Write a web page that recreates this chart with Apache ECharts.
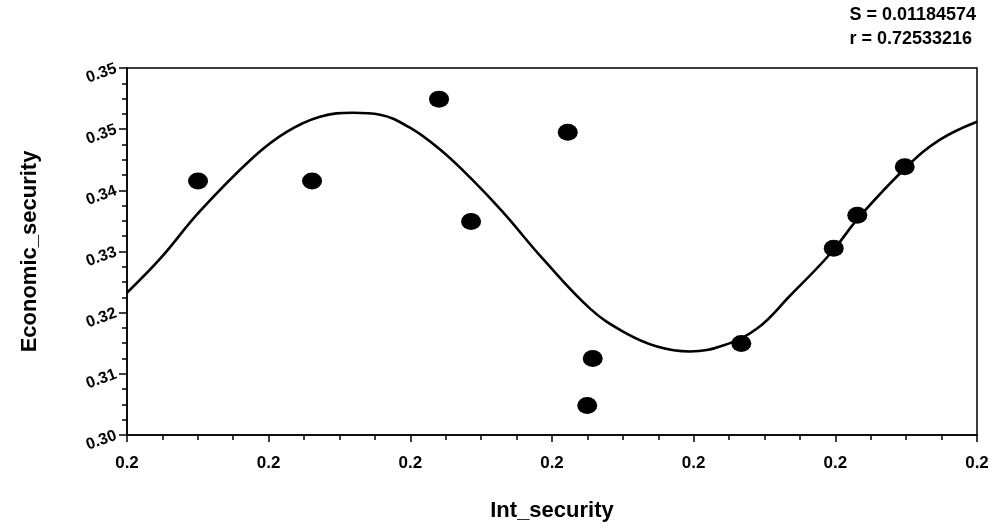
<!DOCTYPE html>
<html>
<head>
<meta charset="utf-8">
<script src="https://cdn.jsdelivr.net/npm/echarts@6/dist/echarts.min.js"></script>
<style>
  html, body { margin: 0; padding: 0; background: #fff; }
  #chart { width: 997px; height: 527px; }
</style>
</head>
<body>
<div id="chart"></div>
<script>
// measured points (Int_security, Economic_security)
var pointX = [0.20401, 0.21045, 0.21762, 0.21943, 0.22489, 0.22630, 0.22599, 0.23469, 0.23991, 0.24124, 0.24392];
var pointY = [0.33736, 0.33736, 0.34942, 0.33142, 0.34453, 0.31127, 0.30435, 0.31346, 0.32747, 0.33234, 0.33947];

// fitted curve
var curveX = [0.20000, 0.20186, 0.20412, 0.20712, 0.20904, 0.21090, 0.21276, 0.21429, 0.21598, 0.21768, 0.21937, 0.22123, 0.22349,
              0.22615, 0.22801, 0.22993, 0.23179, 0.23366, 0.23558, 0.23744, 0.23970, 0.24139, 0.24405, 0.24591, 0.24800];
var curveY = [0.32093, 0.32590, 0.33293, 0.34083, 0.34463, 0.34683, 0.34741, 0.34712, 0.34522, 0.34200, 0.33790, 0.33278, 0.32590,
              0.31859, 0.31522, 0.31302, 0.31229, 0.31317, 0.31566, 0.32049, 0.32663, 0.33220, 0.33951, 0.34346, 0.34610];

var xTickLabels = ['0.2', '0.2', '0.2', '0.2', '0.2', '0.2', '0.2'];
var yTickLabels = ['0.30', '0.31', '0.32', '0.33', '0.34', '0.35', '0.35'];
var statLines = ['S = 0.01184574', 'r = 0.72533216'];

var font = 'Liberation Sans, Arial, sans-serif';

var scatterData = pointX.map(function (x, i) { return [x, pointY[i]]; });
var curveData = curveX.map(function (x, i) { return [x, curveY[i]]; });

var chart = echarts.init(document.getElementById('chart'));
chart.setOption({
  animation: false,
  backgroundColor: '#fff',
  grid: {
    left: 127, right: 20, top: 68, bottom: 90,
    show: true, borderColor: '#000', borderWidth: 1.5, backgroundColor: 'transparent'
  },
  xAxis: {
    type: 'value',
    min: 0.2, max: 0.248, interval: 0.008,
    name: 'Int_security',
    nameLocation: 'middle',
    nameGap: 65,
    nameTextStyle: { fontFamily: font, fontWeight: 'bold', fontSize: 22, color: '#000' },
    axisLine: { show: true, lineStyle: { color: '#000', width: 1.5 } },
    axisTick: { show: true, length: 7, lineStyle: { color: '#000', width: 1.5 } },
    minorTick: { show: true, splitNumber: 4, length: 5, lineStyle: { color: '#000', width: 1.5 } },
    splitLine: { show: false },
    axisLabel: {
      margin: 20,
      fontFamily: font, fontWeight: 'bold', fontSize: 17, color: '#000',
      formatter: function (v, i) { return xTickLabels[i]; }
    }
  },
  yAxis: {
    type: 'value',
    min: 0.3, max: 0.354, interval: 0.009,
    name: 'Economic_security',
    nameLocation: 'middle',
    nameGap: 86,
    nameTextStyle: { fontFamily: font, fontWeight: 'bold', fontSize: 22, color: '#000' },
    axisLine: { show: true, lineStyle: { color: '#000', width: 1.5 } },
    axisTick: { show: true, length: 8, lineStyle: { color: '#000', width: 1.5 } },
    minorTick: { show: true, splitNumber: 4, length: 5, lineStyle: { color: '#000', width: 1.5 } },
    splitLine: { show: false },
    axisLabel: {
      margin: 11, rotate: 20,
      fontFamily: font, fontWeight: 'bold', fontSize: 16, color: '#000',
      formatter: function (v, i) { return yTickLabels[i]; }
    }
  },
  graphic: [
    {
      type: 'text', right: 21, top: 3,
      style: { text: statLines.join('\n'), align: 'right', lineHeight: 24,
               font: 'bold 18px Liberation Sans, Arial, sans-serif', fill: '#000' }
    }
  ],
  series: [
    {
      type: 'line',
      data: curveData,
      smooth: 0.4,
      showSymbol: false,
      lineStyle: { color: '#000', width: 2.6 },
      z: 2
    },
    {
      type: 'scatter',
      data: scatterData,
      symbol: 'circle',
      symbolSize: [20, 17],
      itemStyle: { color: '#000', opacity: 1 },
      z: 3
    }
  ]
});
</script>
</body>
</html>
